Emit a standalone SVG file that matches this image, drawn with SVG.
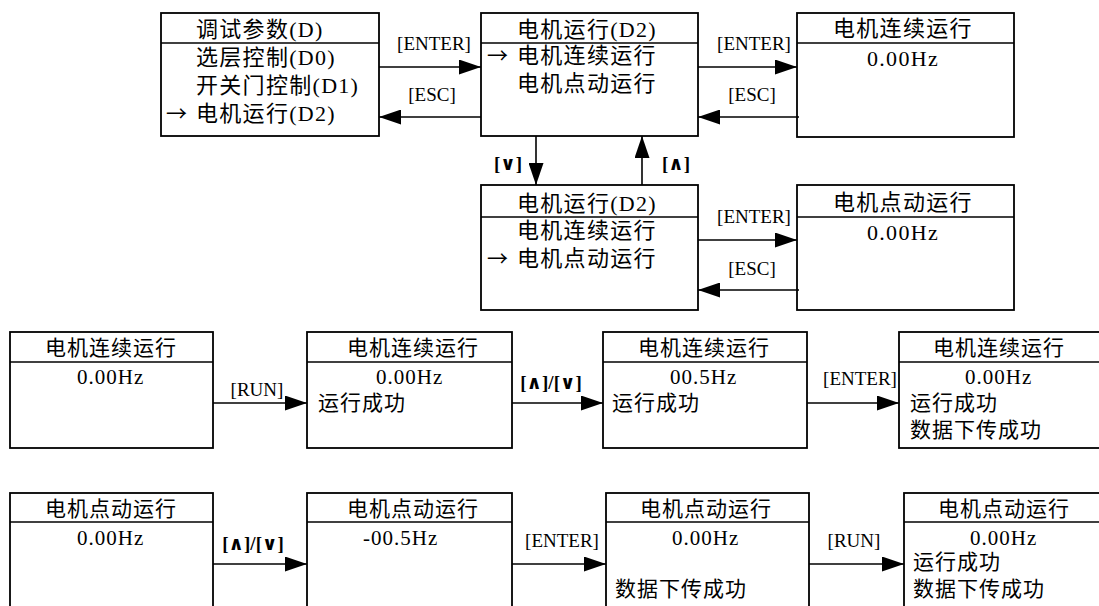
<svg xmlns="http://www.w3.org/2000/svg" width="1099" height="606" viewBox="0 0 1099 606">
<style>
.box{fill:#fff;stroke:#000;stroke-width:1.8}
.sep{stroke:#000;stroke-width:1.6}
.t{font-family:"Liberation Serif","Noto Sans CJK SC",serif;font-size:22px;letter-spacing:1.3px;fill:#000}
.b{font-family:"Liberation Serif","Noto Sans CJK SC",serif;font-size:21px;letter-spacing:1px;fill:#000}
.ar{font-family:"Noto Sans CJK SC",sans-serif;font-size:21px;fill:#000}
.lb{font-family:"Liberation Serif",serif;font-size:19px;fill:#000;text-anchor:middle}
.op{font-family:"Liberation Serif","DejaVu Sans",sans-serif;font-weight:bold;font-size:19px;fill:#000;text-anchor:middle}
.cn line{stroke:#000;stroke-width:1.6;fill:none;marker-end:url(#ah)}
</style>
<defs>
<marker id="ah" markerWidth="22" markerHeight="15" refX="22" refY="7.5" orient="auto" markerUnits="userSpaceOnUse"><path d="M0,0 L22,7.5 L0,15 z" fill="#000"/></marker>
</defs>
<rect width="1099" height="606" fill="#fff"/>

<g id="n-debug">
<rect class="box" x="161" y="13" width="218" height="123"/>
<line class="sep" x1="161" y1="43" x2="379" y2="43"/>
<text class="t" x="196" y="37">调试参数(D)</text>
<text class="t" x="196" y="65">选层控制(D0)</text>
<text class="t" x="196" y="93">开关门控制(D1)</text>
<text class="ar" x="166" y="121">→</text>
<text class="t" x="196" y="121">电机运行(D2)</text>
</g>

<g id="n-motor1">
<rect class="box" x="481" y="13" width="217" height="123"/>
<line class="sep" x1="481" y1="43" x2="698" y2="43"/>
<text class="t" x="517" y="37">电机运行(D2)</text>
<text class="ar" x="487" y="63">→</text>
<text class="t" x="517" y="63">电机连续运行</text>
<text class="t" x="517" y="91">电机点动运行</text>
</g>

<g id="n-cont">
<rect class="box" x="797" y="13" width="217" height="124"/>
<line class="sep" x1="797" y1="43" x2="1014" y2="43"/>
<text class="t" x="833" y="36">电机连续运行</text>
<text class="t" x="867" y="66">0.00Hz</text>
</g>

<g id="n-motor2">
<rect class="box" x="481" y="185" width="217" height="125"/>
<line class="sep" x1="481" y1="217" x2="698" y2="217"/>
<text class="t" x="517" y="211">电机运行(D2)</text>
<text class="t" x="517" y="238">电机连续运行</text>
<text class="ar" x="487" y="266">→</text>
<text class="t" x="517" y="266">电机点动运行</text>
</g>

<g id="n-jog">
<rect class="box" x="797" y="185" width="217" height="125"/>
<line class="sep" x1="797" y1="217" x2="1014" y2="217"/>
<text class="t" x="833" y="210">电机点动运行</text>
<text class="t" x="867" y="240">0.00Hz</text>
</g>

<g id="n-r2a">
<rect class="box" x="10" y="332" width="203" height="116"/>
<line class="sep" x1="10" y1="362" x2="213" y2="362"/>
<text class="b" x="45" y="355">电机连续运行</text>
<text class="b" x="77" y="384">0.00Hz</text>
</g>
<g id="n-r2b">
<rect class="box" x="307" y="332" width="205" height="116"/>
<line class="sep" x1="307" y1="362" x2="512" y2="362"/>
<text class="b" x="347" y="355">电机连续运行</text>
<text class="b" x="376" y="384">0.00Hz</text>
<text class="b" x="318" y="410">运行成功</text>
</g>
<g id="n-r2c">
<rect class="box" x="603" y="332" width="204" height="116"/>
<line class="sep" x1="603" y1="362" x2="807" y2="362"/>
<text class="b" x="638" y="355">电机连续运行</text>
<text class="b" x="670" y="384">00.5Hz</text>
<text class="b" x="612" y="410">运行成功</text>
</g>
<g id="n-r2d">
<rect class="box" x="899" y="332" width="210" height="116"/>
<line class="sep" x1="899" y1="362" x2="1109" y2="362"/>
<text class="b" x="933" y="355">电机连续运行</text>
<text class="b" x="965" y="384">0.00Hz</text>
<text class="b" x="910" y="410">运行成功</text>
<text class="b" x="910" y="437">数据下传成功</text>
</g>

<g id="n-r3a">
<rect class="box" x="10" y="493" width="203" height="130"/>
<line class="sep" x1="10" y1="522" x2="213" y2="522"/>
<text class="b" x="45" y="516">电机点动运行</text>
<text class="b" x="77" y="545">0.00Hz</text>
</g>
<g id="n-r3b">
<rect class="box" x="307" y="493" width="205" height="130"/>
<line class="sep" x1="307" y1="522" x2="512" y2="522"/>
<text class="b" x="347" y="516">电机点动运行</text>
<text class="b" x="363" y="545">-00.5Hz</text>
</g>
<g id="n-r3c">
<rect class="box" x="606" y="493" width="203" height="130"/>
<line class="sep" x1="606" y1="522" x2="809" y2="522"/>
<text class="b" x="640" y="516">电机点动运行</text>
<text class="b" x="672" y="545">0.00Hz</text>
<text class="b" x="615" y="596">数据下传成功</text>
</g>
<g id="n-r3d">
<rect class="box" x="904" y="493" width="210" height="130"/>
<line class="sep" x1="904" y1="522" x2="1114" y2="522"/>
<text class="b" x="938" y="516">电机点动运行</text>
<text class="b" x="970" y="545">0.00Hz</text>
<text class="b" x="913" y="569">运行成功</text>
<text class="b" x="913" y="596">数据下传成功</text>
</g>

<g id="connectors" class="cn">
<line x1="379" y1="67" x2="481" y2="67"/>
<line x1="481" y1="117" x2="379" y2="117"/>
<line x1="698" y1="67" x2="797" y2="67"/>
<line x1="799" y1="117" x2="698" y2="117"/>
<line x1="536" y1="136" x2="536" y2="185"/>
<line x1="642" y1="185" x2="642" y2="136"/>
<line x1="698" y1="240" x2="797" y2="240"/>
<line x1="799" y1="290" x2="698" y2="290"/>
<line x1="213" y1="403" x2="307" y2="403"/>
<line x1="512" y1="403" x2="603" y2="403"/>
<line x1="807" y1="403" x2="899" y2="403"/>
<line x1="213" y1="564" x2="307" y2="564"/>
<line x1="512" y1="564" x2="606" y2="564"/>
<line x1="809" y1="564" x2="904" y2="564"/>
</g>

<g id="labels">
<text class="lb" x="434" y="50">[ENTER]</text>
<text class="lb" x="432" y="101">[ESC]</text>
<text class="lb" x="754" y="50">[ENTER]</text>
<text class="lb" x="752" y="101">[ESC]</text>
<text class="lb" x="754" y="223">[ENTER]</text>
<text class="lb" x="752" y="275">[ESC]</text>
<text class="op" x="508" y="170">[∨]</text>
<text class="op" x="676" y="170">[∧]</text>
<text class="lb" x="257" y="396">[RUN]</text>
<text class="op" x="551" y="389">[∧]/[∨]</text>
<text class="lb" x="860" y="385">[ENTER]</text>
<text class="op" x="253" y="550">[∧]/[∨]</text>
<text class="lb" x="562" y="547">[ENTER]</text>
<text class="lb" x="854" y="547">[RUN]</text>
</g>
</svg>
